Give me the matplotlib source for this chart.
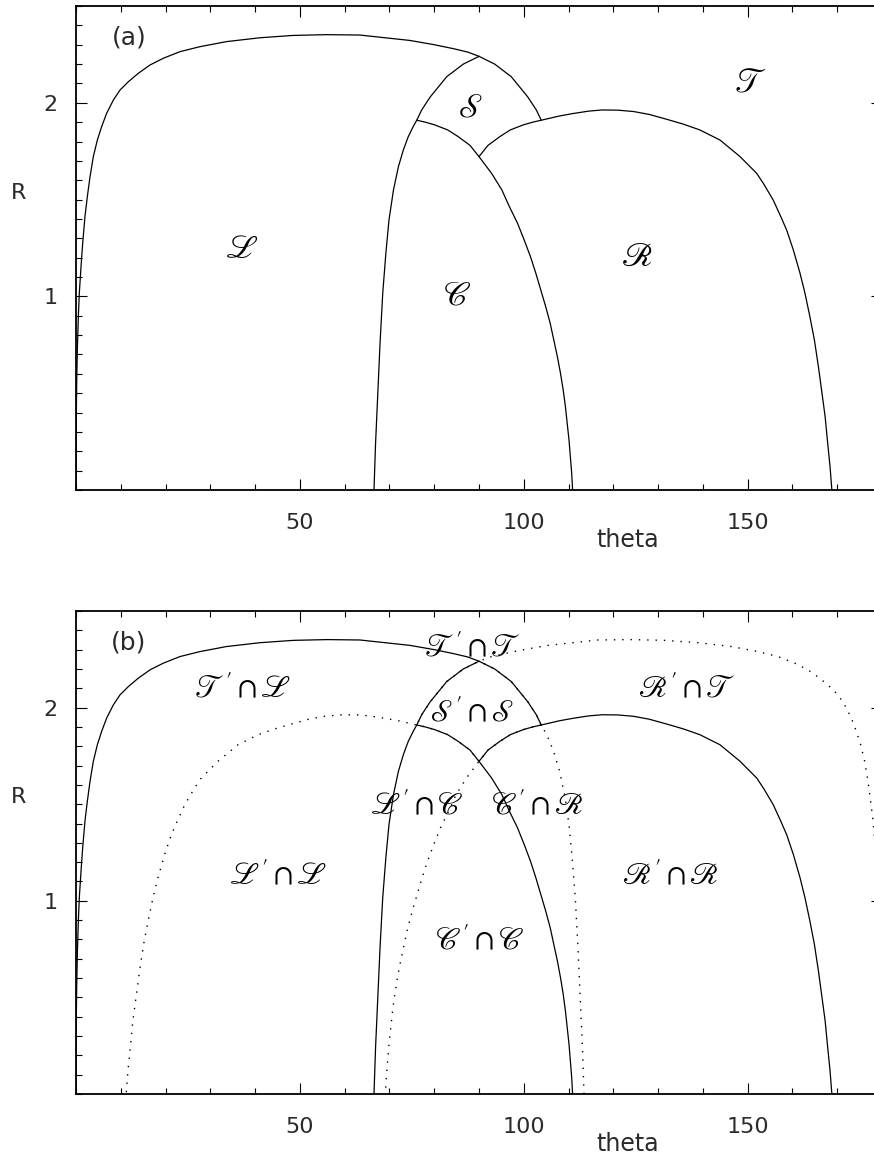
import matplotlib
matplotlib.use("Agg")
import matplotlib.pyplot as plt
from matplotlib.ticker import MultipleLocator, FixedLocator

plt.rcParams['mathtext.fontset'] = 'stix'
plt.rcParams['font.family'] = ['DejaVu Sans']

# ---------------- data (theta in degrees, R) ----------------
# outer boundary (L / T)
theta_A = [0.0, 0.02, 0.15, 0.30, 0.52, 0.74, 1.12, 1.49, 2.0, 2.53, 3.13, 3.87, 4.77,
           5.73, 6.85, 8.34, 9.83, 11.7, 13.9, 16.5, 19.5, 23.2, 27.7, 33.6, 41.1, 48.5,
           56.0, 63.4, 69.0, 74.6, 80.0, 84.2, 87.5, 90.0, 93.5, 97.2, 100.9, 102.8, 103.9]
R_A = [0.0, 0.293, 0.551, 0.723, 0.895, 1.016, 1.153, 1.274, 1.412, 1.515, 1.618, 1.722,
       1.808, 1.877, 1.946, 2.014, 2.066, 2.109, 2.152, 2.195, 2.23, 2.264, 2.29, 2.316,
       2.336, 2.348, 2.352, 2.350, 2.336, 2.322, 2.30, 2.28, 2.262, 2.24, 2.20, 2.135,
       2.03, 1.963, 1.91]
# left boundary of C and S
theta_B = [66.55, 66.9, 67.4, 67.9, 68.5, 69.2, 69.9, 70.9, 72.0, 73.1, 74.2, 75.3,
           76.1, 77.2, 79.1, 82.8, 86.5, 90.0]
R_B = [0.0, 0.241, 0.50, 0.758, 1.016, 1.223, 1.395, 1.55, 1.67, 1.756, 1.825, 1.877,
       1.91, 1.963, 2.03, 2.135, 2.20, 2.24]
# right boundary of C (and lower-left of S)
theta_C = [76.1, 78.0, 80.1, 83.0, 85.3, 88.0, 90.0, 92.8, 95.1, 96.8, 98.6, 100.1,
           101.5, 102.7, 103.8, 104.9, 105.9, 106.7, 107.5, 108.2, 108.8, 109.3, 109.7,
           110.1, 110.4, 110.7, 110.9]
R_C = [1.91, 1.90, 1.886, 1.86, 1.826, 1.78, 1.722, 1.636, 1.55, 1.463, 1.378, 1.291,
       1.205, 1.119, 1.033, 0.947, 0.861, 0.775, 0.689, 0.603, 0.517, 0.430, 0.344,
       0.258, 0.172, 0.086, 0.0]
# boundary of R
theta_D = [90.0, 92.0, 94.7, 97.0, 99.9, 102.0, 103.9, 108.0, 111.1, 114.5, 117.5, 121.0,
           124.5, 128.0, 131.9, 135.6, 139.3, 143.8, 148.3, 152.0, 153.5, 155.7, 157.4,
           158.7, 160.2, 161.7, 162.8, 163.9, 164.9, 165.8, 166.5, 167.3, 167.8, 168.4,
           168.8]
R_D = [1.722, 1.78, 1.826, 1.86, 1.886, 1.90, 1.91, 1.932, 1.945, 1.957, 1.963, 1.962,
       1.955, 1.94, 1.915, 1.89, 1.86, 1.808, 1.722, 1.636, 1.584, 1.498, 1.412, 1.343,
       1.240, 1.119, 1.016, 0.895, 0.775, 0.637, 0.517, 0.379, 0.258, 0.12, 0.0]

# primed (dotted) boundaries in panel (b)
theta_Ap = [180.0, 179.98, 179.85, 179.7, 179.48, 179.26, 178.88, 178.51, 178.0, 177.47,
            176.87, 176.13, 175.23, 174.27, 173.15, 171.66, 170.17, 168.3, 166.1, 163.5,
            160.5, 156.8, 152.3, 146.4, 138.9, 131.5, 124.0, 116.6, 111.0, 105.4, 100.0,
            95.8, 92.5, 90.0, 86.5, 82.8, 79.1, 77.2, 76.1]
R_Ap = [0.0, 0.293, 0.551, 0.723, 0.895, 1.016, 1.153, 1.274, 1.412, 1.515, 1.618, 1.722,
        1.808, 1.877, 1.946, 2.014, 2.066, 2.109, 2.152, 2.195, 2.23, 2.264, 2.29, 2.316,
        2.336, 2.348, 2.352, 2.350, 2.336, 2.322, 2.30, 2.28, 2.262, 2.24, 2.20, 2.135,
        2.03, 1.963, 1.91]
theta_Bp = [113.45, 113.1, 112.6, 112.1, 111.5, 110.8, 110.1, 109.1, 108.0, 106.9, 105.8,
            104.7, 103.9, 102.8, 100.9, 97.2, 93.5, 90.0]
R_Bp = [0.0, 0.241, 0.50, 0.758, 1.016, 1.223, 1.395, 1.55, 1.67, 1.756, 1.825, 1.877,
        1.91, 1.963, 2.03, 2.135, 2.20, 2.24]
theta_Cp = [103.9, 102.0, 99.9, 97.0, 94.7, 92.0, 90.0, 87.2, 84.9, 83.2, 81.4, 79.9,
            78.5, 77.3, 76.2, 75.1, 74.1, 73.3, 72.5, 71.8, 71.2, 70.7, 70.3, 69.9, 69.6,
            69.3, 69.1]
R_Cp = [1.91, 1.90, 1.886, 1.86, 1.826, 1.78, 1.722, 1.636, 1.55, 1.463, 1.378, 1.291,
        1.205, 1.119, 1.033, 0.947, 0.861, 0.775, 0.689, 0.603, 0.517, 0.430, 0.344,
        0.258, 0.172, 0.086, 0.0]
theta_Dp = [90.0, 88.0, 85.3, 83.0, 80.1, 78.0, 76.1, 72.0, 68.9, 65.5, 62.5, 59.0, 55.5,
            52.0, 48.1, 44.4, 40.7, 36.2, 31.7, 28.0, 26.5, 24.3, 22.6, 21.3, 19.8, 18.3,
            17.2, 16.1, 15.1, 14.2, 13.5, 12.7, 12.2, 11.6, 11.2]
R_Dp = [1.722, 1.78, 1.826, 1.86, 1.886, 1.90, 1.91, 1.932, 1.945, 1.957, 1.963, 1.962,
        1.955, 1.94, 1.915, 1.89, 1.86, 1.808, 1.722, 1.636, 1.584, 1.498, 1.412, 1.343,
        1.240, 1.119, 1.016, 0.895, 0.775, 0.637, 0.517, 0.379, 0.258, 0.12, 0.0]

xtick_vals = [50, 100, 150]
xtick_labels = ['50', '100', '150']
ytick_vals = [1, 2]
ytick_labels = ['1', '2']

labels_a = [r'$\mathscr{L}$', r'$\mathscr{S}$', r'$\mathscr{C}$', r'$\mathscr{R}$', r'$\mathscr{T}$']
labels_b = [r"$\mathscr{T}'\cap\mathscr{T}$", r"$\mathscr{T}'\cap\mathscr{L}$",
            r"$\mathscr{S}'\cap\mathscr{S}$", r"$\mathscr{R}'\cap\mathscr{T}$",
            r"$\mathscr{L}'\cap\mathscr{C}$", r"$\mathscr{C}'\cap\mathscr{R}$",
            r"$\mathscr{L}'\cap\mathscr{L}$", r"$\mathscr{R}'\cap\mathscr{R}$",
            r"$\mathscr{C}'\cap\mathscr{C}$"]

# label positions (layout)
pos_a = [(37.0, 1.248), (88.0, 1.977), (85.0, 1.007), (125.1, 1.205), (150.5, 2.109)]
pos_b = [(88.4, 2.31), (37.3, 2.097), (88.4, 1.975), (136.4, 2.10), (76.1, 1.493),
         (102.9, 1.493), (45.1, 1.131), (132.6, 1.131), (90.2, 0.795)]

# ---------------- figure ----------------
W, H = 874, 1158
fig = plt.figure(figsize=(W / 100, H / 100), dpi=100)
left = 76 / W
width = 806 / W
ax_a = fig.add_axes([left, (H - 490) / H, width, 484 / H])
ax_b = fig.add_axes([left, (H - 1094) / H, width, 483 / H])

LW = 0.9
TXT = '#2a2a2a'


def style(ax, tag):
    ax.set_xlim(0, 180)
    ax.set_ylim(0, 2.5)
    ax.xaxis.set_major_locator(FixedLocator(xtick_vals))
    ax.set_xticklabels(xtick_labels)
    ax.yaxis.set_major_locator(FixedLocator(ytick_vals))
    ax.set_yticklabels(ytick_labels)
    ax.xaxis.set_minor_locator(MultipleLocator(10))
    ax.yaxis.set_minor_locator(MultipleLocator(0.1))
    ax.tick_params(which='both', direction='in', top=True, right=True,
                   width=0.8, colors='black', labelcolor=TXT, labelsize=16)
    ax.tick_params(which='major', length=8)
    ax.tick_params(which='minor', length=4.3)
    ax.tick_params(axis='x', pad=16.5)
    ax.tick_params(axis='y', pad=13)
    for s in ax.spines.values():
        s.set_linewidth(1.3)
    ax.text(-0.0707, 0.614, 'R', transform=ax.transAxes, fontsize=16, color=TXT,
            ha='center', va='center')
    ax.text(0.685, -0.103, 'theta', transform=ax.transAxes, fontsize=17, color=TXT,
            ha='center', va='center')
    ax.text(0.0658, 0.935, tag, transform=ax.transAxes, fontsize=18, color=TXT,
            ha='center', va='center')


for ax in (ax_a, ax_b):
    ax.plot(theta_A, R_A, color='black', lw=LW)
    ax.plot(theta_B, R_B, color='black', lw=LW)
    ax.plot(theta_C, R_C, color='black', lw=LW)
    ax.plot(theta_D, R_D, color='black', lw=LW)

for th, rr in ((theta_Ap, R_Ap), (theta_Bp, R_Bp), (theta_Cp, R_Cp), (theta_Dp, R_Dp)):
    ax_b.plot(th, rr, color='black', lw=1.0, linestyle=(0, (1, 5)), clip_on=False)

style(ax_a, '(a)')
style(ax_b, '(b)')

for s, (x, y) in zip(labels_a, pos_a):
    ax_a.text(x, y, s, fontsize=24, ha='center', va='center', color='black')
for s, (x, y) in zip(labels_b, pos_b):
    ax_b.text(x, y, s, fontsize=22, ha='center', va='center', color='black')

fig.savefig('out.png', dpi=100)
